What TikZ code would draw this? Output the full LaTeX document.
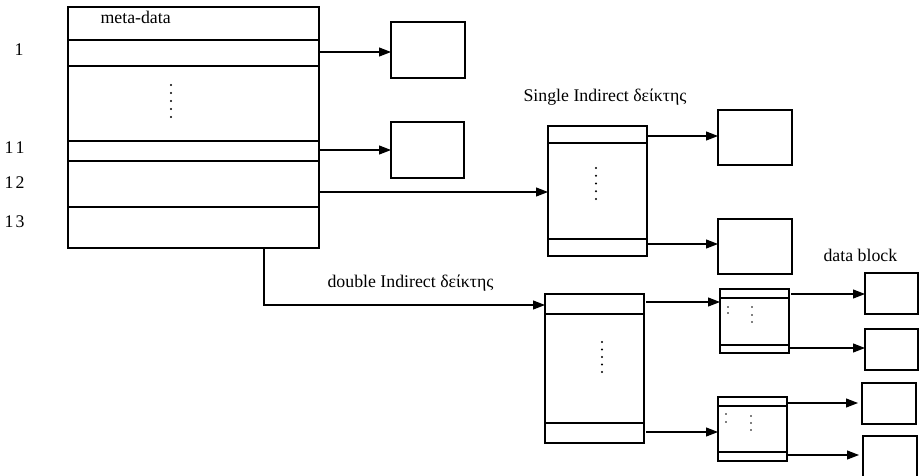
\documentclass[tikz,border=0pt]{standalone}
\usepackage{fontspec}
\setmainfont{Liberation Serif}
\usetikzlibrary{arrows.meta}
\begin{document}
\begin{tikzpicture}[x=1pt,y=-1pt, line width=1.1pt,
  box/.style={draw, inner sep=0pt, outer sep=0pt, anchor=north west},
  arr/.style={-{Triangle[length=12pt,width=9pt]}},
  lbl/.style={font=\fontsize{17.8}{20}\selectfont, inner sep=0pt},
  dot/.style={circle, fill, inner sep=0pt, minimum size=2.3pt}]
\useasboundingbox (0,0) rectangle (921,475);
\begin{scope}
\clip (0,0) rectangle (921,475);
% main inode box
\node[box, minimum width=251pt, minimum height=241pt] (main) at (68,7) {};
\foreach \y in {40,66,141,161,207} \draw (68,\y) -- (319,\y);
\foreach \y in {85,93,101,109,117} \node[dot] at (171,\y) {};
% labels
\node[lbl, anchor=base west] (meta) at (100,23) {meta-data};
\node[lbl, anchor=base east] (n1) at (24,55) {1};
\node[lbl, anchor=base east] (n11) at (25,153) {1\kern2pt 1};
\node[lbl, anchor=base east] (n12) at (25,188) {1\kern2pt 2};
\node[lbl, anchor=base east] (n13) at (25,227) {1\kern2pt 3};
% direct blocks
\node[box, minimum width=74pt, minimum height=56pt] (b1) at (391,22) {};
\node[box, minimum width=73pt, minimum height=56pt] (b2) at (391,122) {};
% single indirect
\node[lbl, anchor=base west] (slbl) at (523,101) {Single Indirect δείκτης};
\node[box, minimum width=99pt, minimum height=130pt] (si) at (548,126) {};
\foreach \y in {143,239} \draw (548,\y) -- (647,\y);
\foreach \y in {168,175.75,183.5,191.25,199} \node[dot] at (596,\y) {};
\node[box, minimum width=74pt, minimum height=55pt] (sa) at (718,110) {};
\node[box, minimum width=74pt, minimum height=55pt] (sb) at (718,219) {};
% double indirect
\node[lbl, anchor=base west] (dlbl) at (327,287) {double Indirect δείκτης};
\node[box, minimum width=99pt, minimum height=149pt] (di) at (545,294) {};
\foreach \y in {314,423} \draw (545,\y) -- (644,\y);
\foreach \y in {342,349.5,357,364.5,372} \node[dot] at (602,\y) {};
\node[box, minimum width=69pt, minimum height=64pt] (t1) at (720,289) {};
\foreach \y in {298,345} \draw (720,\y) -- (789,\y);
\foreach \y in {307,313} \node[dot, minimum size=1.9pt] at (728,\y) {};
\foreach \y in {307,315,322} \node[dot, minimum size=1.9pt] at (752,\y) {};
\node[box, minimum width=69pt, minimum height=64pt] (t2) at (718,397) {};
\foreach \y in {406,452} \draw (718,\y) -- (787,\y);
\foreach \y in {414,422} \node[dot, minimum size=1.9pt] at (726,\y) {};
\foreach \y in {416,423,430} \node[dot, minimum size=1.9pt] at (751,\y) {};
% data blocks
\node[lbl, anchor=base west] (dblbl) at (823,261) {data block};
\node[box, minimum width=53pt, minimum height=41pt] (d1) at (865,273) {};
\node[box, minimum width=53pt, minimum height=41pt] (d2) at (865,329) {};
\node[box, minimum width=54pt, minimum height=41pt] (d3) at (862,383) {};
\node[box, minimum width=54pt, minimum height=50pt] (d4) at (863,436) {};
% ports
\coordinate (p1) at (319,52);
\coordinate (p11) at (319,150);
\coordinate (p12) at (319,192);
\coordinate (p13) at (264,248);
\coordinate (bend) at (264,305);
\coordinate (sp1) at (647,136);
\coordinate (sp2) at (647,244);
\coordinate (dp1) at (646,302);
\coordinate (dp2) at (646,432);
\coordinate (tp1) at (791,294);
\coordinate (tp2) at (789,348);
\coordinate (tp3) at (787,403);
\coordinate (tp4) at (787,455);
% connectors
\draw[arr] (p1) -- (p1 -| b1.west);
\draw[arr] (p11) -- (p11 -| b2.west);
\draw[arr] (p12) -- (p12 -| si.west);
\draw[arr] (p13) -- (bend) -- (bend -| di.west);
\draw[arr] (sp1) -- (sp1 -| sa.west);
\draw[arr] (sp2) -- (sp2 -| sb.west);
\draw[arr] (dp1) -- (dp1 -| t1.west);
\draw[arr] (dp2) -- (dp2 -| t2.west);
\draw[arr] (tp1) -- (tp1 -| d1.west);
\draw[arr] (tp2) -- (tp2 -| d2.west);
\draw[arr] (tp3) -- ([xshift=-4pt]tp3 -| d3.west);
\draw[arr] (tp4) -- ([xshift=-4pt]tp4 -| d4.west);
\end{scope}
\end{tikzpicture}
\end{document}
